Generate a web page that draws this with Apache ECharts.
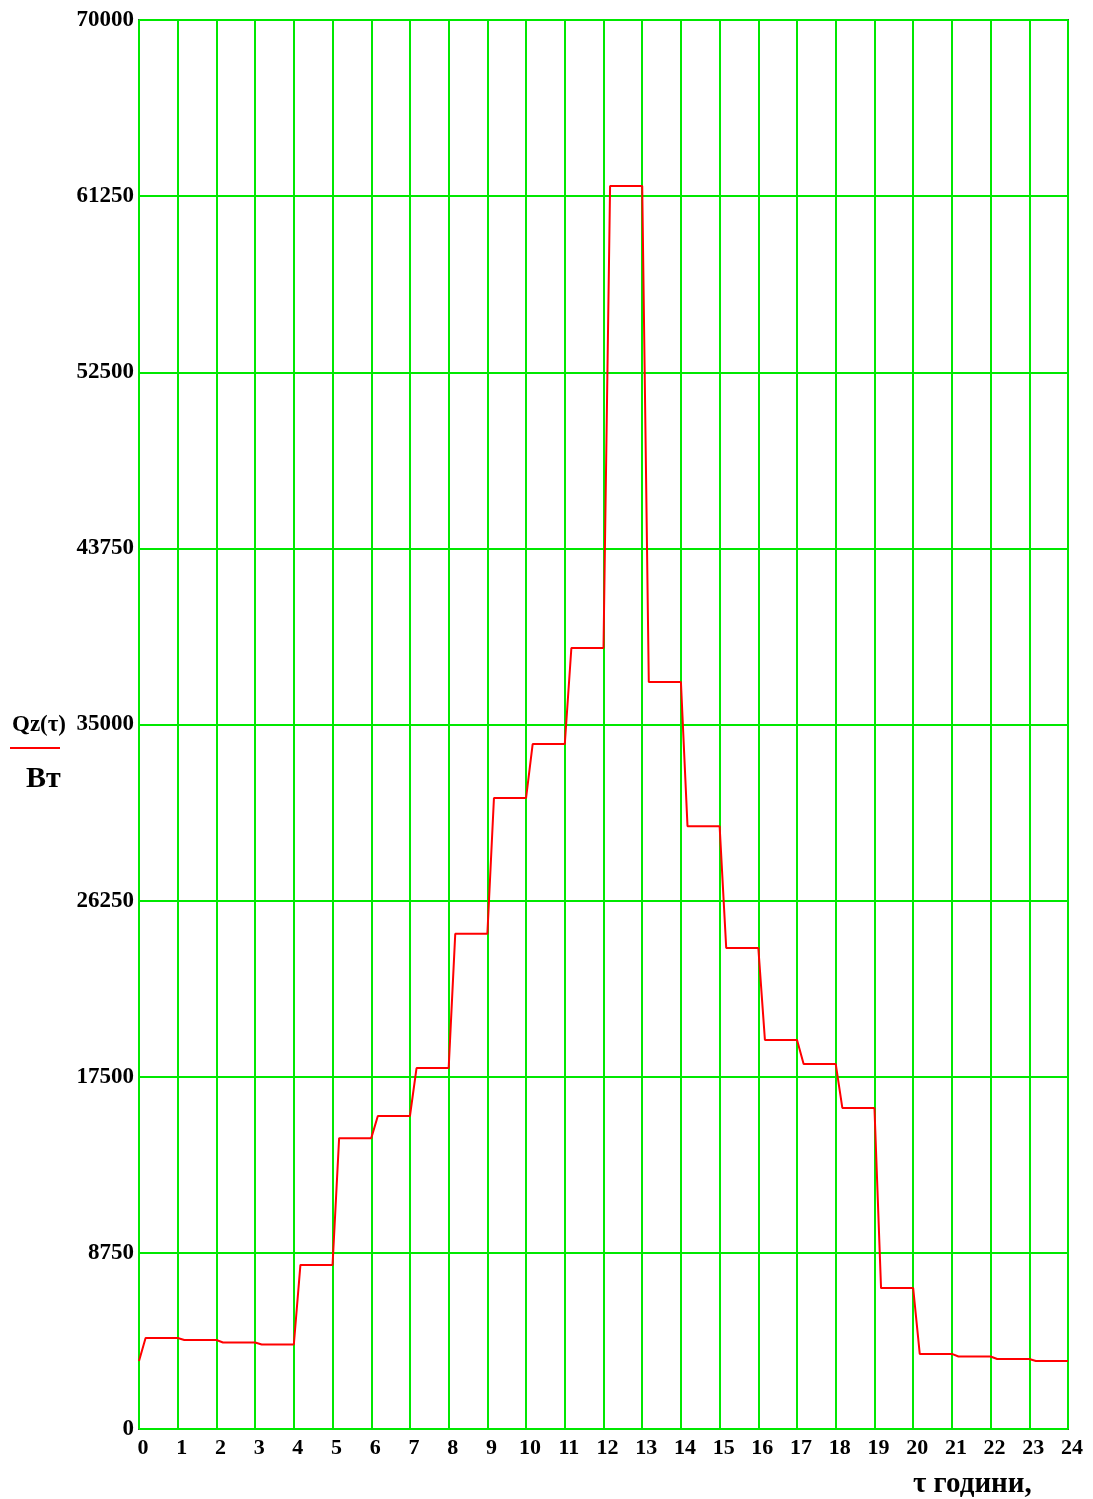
<!DOCTYPE html>
<html>
<head>
<meta charset="utf-8">
<script src="https://cdn.jsdelivr.net/npm/echarts@6/dist/echarts.min.js"></script>
<style>
html,body{margin:0;padding:0;background:#fff;}
#c{width:1093px;height:1499px;}
</style>
</head>
<body>
<div id="c"></div>
<script>
// Hours (start of each hourly step) and heat load values, W
const hours = [0,1,2,3,4,5,6,7,8,9,10,11,12,13,14,15,16,17,18,19,20,21,22,23];
const loads = [4520,4420,4300,4200,8150,14450,15550,17930,24600,31350,34030,38800,61750,37110,29950,23900,19330,18130,15950,7000,3730,3600,3480,3380];
const xTicks = [0,1,2,3,4,5,6,7,8,9,10,11,12,13,14,15,16,17,18,19,20,21,22,23,24];
const yTicks = [0,8750,17500,26250,35000,43750,52500,61250,70000];
const rampWidth = 0.17; // hours taken by each step change in the plotted curve

const pts = [];
for (let i = 0; i < hours.length; i++) {
  const prev = i === 0 ? loads[loads.length - 1] : loads[i - 1];
  pts.push([hours[i], prev]);
  pts.push([hours[i] + rampWidth, loads[i]]);
}
pts.push([24, loads[loads.length - 1]]);

const chart = echarts.init(document.getElementById('c'), null, {renderer: 'canvas'});
const labelFont = {fontFamily: 'Liberation Serif', fontWeight: 'bold', color: '#000'};
chart.setOption({
  animation: false,
  backgroundColor: '#fff',
  grid: {left: 139, right: 25, top: 20, bottom: 70, show: true, borderColor: '#444', borderWidth: 2, backgroundColor: '#fff'},
  xAxis: {
    type: 'value', min: xTicks[0], max: xTicks[xTicks.length - 1], interval: 1,
    axisLine: {show: false}, axisTick: {show: false},
    splitLine: {show: true, lineStyle: {color: '#00e800', width: 2}},
    axisLabel: Object.assign({margin: 8, fontSize: 22, padding: [0, 0, 0, 8],
      formatter: v => String(v)}, labelFont)
  },
  yAxis: {
    type: 'value', min: yTicks[0], max: yTicks[yTicks.length - 1], interval: yTicks[1] - yTicks[0],
    axisLine: {show: false}, axisTick: {show: false},
    splitLine: {show: true, lineStyle: {color: '#00e800', width: 2}},
    axisLabel: Object.assign({margin: 5, fontSize: 23, formatter: v => String(v)}, labelFont)
  },
  series: [{
    type: 'line', data: pts, showSymbol: false, symbol: 'none',
    lineStyle: {color: '#ff0000', width: 2}, z: 5
  }],
  graphic: [
    {type: 'text', left: 12, top: 714, style: {text: 'Qz(τ)', font: 'bold 23px "Liberation Serif"', fill: '#000'}},
    {type: 'line', shape: {x1: 10, y1: 748, x2: 60, y2: 748}, style: {stroke: '#ff0000', lineWidth: 2}},
    {type: 'text', left: 26, top: 764, style: {text: 'Вт', font: 'bold 30px "Liberation Serif"', fill: '#000'}},
    {type: 'text', left: 913, top: 1470, style: {text: 'τ години,', font: 'bold 29px "Liberation Serif"', fill: '#000'}}
  ]
});
</script>
</body>
</html>
